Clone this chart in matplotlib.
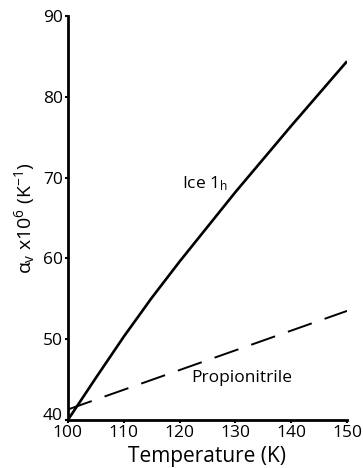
import numpy as np
import matplotlib
matplotlib.use("Agg")
import matplotlib.pyplot as plt

plt.rcParams['font.family'] = ['Open Sans', 'DejaVu Sans']
plt.rcParams['mathtext.fontset'] = 'custom'
plt.rcParams['mathtext.rm'] = 'Open Sans'
plt.rcParams['mathtext.it'] = 'Open Sans'

temp_ice = [100, 105, 110, 115, 120, 125, 130, 135, 140, 145, 150]
alpha_ice = [40, 45.2, 50.3, 55.1, 59.6, 63.9, 68.2, 72.3, 76.4, 80.4, 84.4]
temp_prop = [100, 150]
alpha_prop = [41.3, 53.5]
xticks = [100, 110, 120, 130, 140, 150]
yticks = [40, 50, 60, 70, 80, 90]

fig = plt.figure(figsize=(3.63, 4.68), dpi=100)
ax = fig.add_axes([0.187, 0.1026, 0.769, 0.8632])

ax.plot(temp_ice, alpha_ice, color='black', lw=1.9, solid_capstyle='butt')
ax.plot(temp_prop, alpha_prop, color='black', lw=1.4, dashes=(13, 7))

ax.text(124.5, 69.3, r'Ice 1$_\mathregular{h}$', fontsize=12.5, ha='center', va='center')
ax.text(131.1, 45.2, 'Propionitrile', fontsize=12.5, ha='center', va='center')

ax.set_xlim(100, 150)
ax.set_ylim(40, 90)
ax.set_xticks(xticks)
ax.set_yticks(yticks)
ax.tick_params(labelsize=12.5, length=2.5, width=1.5, pad=1, colors='black')
ax.get_yticklabels()[0].set_verticalalignment('baseline')
for s in ['top', 'right']:
    ax.spines[s].set_visible(False)
for s in ['left', 'bottom']:
    ax.spines[s].set_linewidth(2)

ax.set_xlabel('Temperature (K)', fontsize=15, labelpad=4)
ax.set_ylabel(r'$\alpha_\mathregular{v}$ x10$^\mathregular{6}$ (K$^\mathregular{-1}$)', fontsize=14)
ax.yaxis.set_label_coords(-0.111, 0.5)

fig.savefig('out.png', dpi=100)
